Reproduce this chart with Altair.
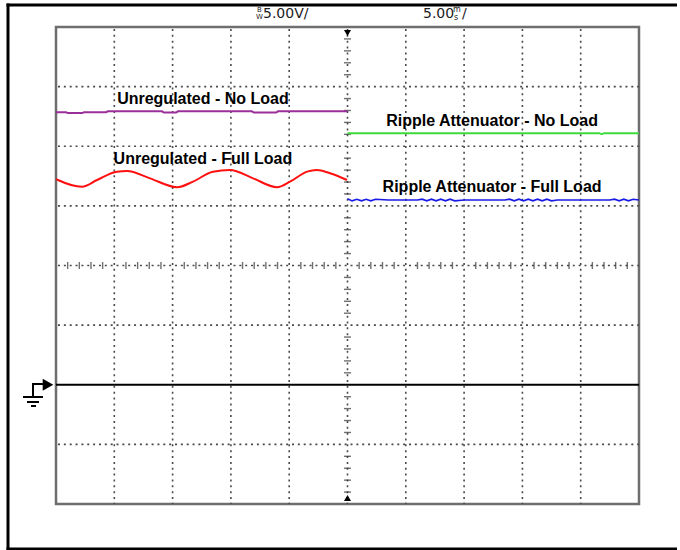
import altair as alt
import pandas as pd

# ---- scope settings: 5 ms/div (10 div), 5 V/div (8 div), ground 2 div above bottom
T_DOMAIN = [0, 50]
V_DOMAIN = [-10, 30]
grid_t = [5, 10, 15, 20, 25, 30, 35, 40, 45]
grid_v = [-5, 5, 10, 15, 20, 25]

# ---- traces (time ms, volts)
purple_t = [0.0, 0.86, 1.03, 2.23, 2.40, 4.29, 4.46, 9.09, 9.26, 10.29, 10.46, 16.80, 16.98, 18.87, 19.04, 25.0]
purple_v = [22.85, 22.85, 22.78, 22.78, 22.85, 22.85, 22.93, 22.93, 22.82, 22.82, 22.93, 22.93, 22.82, 22.82, 22.93, 22.93]

red_t = [0.0, 0.17, 2.23, 3.52, 5.23, 6.09, 8.06, 10.38, 11.75, 13.46, 14.92, 16.90, 18.95, 20.07, 21.53, 22.38, 23.50, 24.96]
red_v = [17.25, 17.17, 16.61, 17.17, 17.87, 17.92, 17.31, 16.56, 17.03, 17.87, 18.01, 17.31, 16.56, 17.03, 17.87, 18.01, 17.73, 17.17]

green_t = [25.0, 46.6, 46.8, 47.0, 50.0]
green_v = [21.09, 21.09, 21.0, 21.09, 21.09]

blue_t = [25.0, 25.4, 25.8, 26.2, 26.6, 27.0, 27.4, 28.5, 31.0, 31.4, 31.8, 32.2, 32.6, 33.0,
          33.4, 33.8, 34.2, 35.0, 38.5, 38.9, 39.3, 39.7, 40.1, 40.5, 40.9, 41.3, 41.7, 42.1,
          42.5, 43.0, 47.5, 47.9, 48.3, 48.7, 49.1, 49.5, 50.0]
blue_v = [15.60, 15.42, 15.55, 15.42, 15.55, 15.42, 15.55, 15.49, 15.49, 15.56, 15.42, 15.56, 15.42, 15.56,
          15.42, 15.56, 15.42, 15.49, 15.49, 15.56, 15.42, 15.56, 15.42, 15.56, 15.42, 15.56, 15.42, 15.56,
          15.42, 15.49, 15.49, 15.56, 15.42, 15.56, 15.42, 15.56, 15.49]

ground_t = [0, 50]
ground_v = [0, 0]

label_text = ["Unregulated - No Load", "Unregulated - Full Load",
              "Ripple Attenuator - No Load", "Ripple Attenuator - Full Load"]
label_t = [12.6, 12.6, 37.4, 37.4]
label_v = [23.95, 18.95, 22.12, 16.58]

# center-line minor ticks (5 per division)
minor_t = [i for i in range(1, 50) if i % 5 != 0]
minor_v = [i for i in range(-9, 30) if i % 5 != 0]

xs = alt.Scale(domain=T_DOMAIN, nice=False, zero=False)
ys = alt.Scale(domain=V_DOMAIN, nice=False, zero=False)

DOT = [2, 3.85]
GRID_COLOR = "#4a4a4a"


def trace(t, v, color, width=2.0, interp="linear"):
    df = pd.DataFrame({"t": t, "v": v})
    return alt.Chart(df).mark_line(color=color, strokeWidth=width, interpolate=interp).encode(
        x=alt.X("t:Q", scale=xs, axis=None),
        y=alt.Y("v:Q", scale=ys, axis=None),
    )


vgrid = alt.Chart(pd.DataFrame({"t": grid_t})).mark_rule(
    color=GRID_COLOR, strokeWidth=1.6, strokeDash=DOT).encode(
    x=alt.X("t:Q", scale=xs, axis=None), y=alt.value(2), y2=alt.value(477))
hgrid = alt.Chart(pd.DataFrame({"v": grid_v})).mark_rule(
    color=GRID_COLOR, strokeWidth=1.6, strokeDash=DOT).encode(
    y=alt.Y("v:Q", scale=ys, axis=None), x=alt.value(2), x2=alt.value(583))

ground = trace(ground_t, ground_v, "black", 2.2)

h_ticks = alt.Chart(pd.DataFrame({"t": minor_t})).mark_tick(
    orient="vertical", size=7, thickness=1.4, color="#333333").encode(
    x=alt.X("t:Q", scale=xs, axis=None),
    y=alt.Y(datum=10, scale=ys, axis=None),
)
v_ticks = alt.Chart(pd.DataFrame({"v": minor_v})).mark_tick(
    orient="horizontal", size=7, thickness=1.4, color="#333333").encode(
    y=alt.Y("v:Q", scale=ys, axis=None),
    x=alt.X(datum=25, scale=xs, axis=None),
)

labels = alt.Chart(pd.DataFrame({"t": label_t, "v": label_v, "s": label_text})).mark_text(
    font="Liberation Sans", fontWeight="bold", fontSize=16, color="black",
    align="center", baseline="middle").encode(
    x=alt.X("t:Q", scale=xs, axis=None),
    y=alt.Y("v:Q", scale=ys, axis=None),
    text="s:N",
)

# trigger position markers (top / bottom center) and ground marker
trig_top = alt.Chart(pd.DataFrame({"t": [25]})).mark_point(
    shape="triangle-down", filled=True, color="black", size=50, opacity=1).encode(
    x=alt.X("t:Q", scale=xs, axis=None), y=alt.value(6))
trig_bot = alt.Chart(pd.DataFrame({"t": [25]})).mark_point(
    shape="triangle-up", filled=True, color="black", size=50, opacity=1).encode(
    x=alt.X("t:Q", scale=xs, axis=None), y=alt.value(471))
gnd_arrow = alt.Chart(pd.DataFrame({"v": [0]})).mark_point(
    shape="triangle-right", filled=True, color="black", size=150, opacity=1).encode(
    y=alt.Y("v:Q", scale=ys, axis=None), x=alt.value(-8))


def bar(x, x2, y, y2, color="black"):
    # thin filled rectangle used for frame / symbol strokes (pixel positions)
    return alt.Chart(pd.DataFrame({"a": [0]})).mark_rect(color=color, strokeWidth=0).encode(
        x=alt.value(x), x2=alt.value(x2), y=alt.value(y), y2=alt.value(y2))


gnd_sym = [
    bar(-24, -13, 356, 358),
    bar(-24, -22, 356, 370),
    bar(-33, -13, 369, 371),
    bar(-29, -17, 374, 376),
    bar(-25, -20, 378, 380),
]

# outer frame of the screen capture (its right edge falls outside the capture)
frame = [
    bar(-49.5, -46.5, -23.5, 523.5),
    bar(-49.5, 621, -23.5, -20.5),
    bar(-49.5, 621, 520.5, 523.5),
]


def ptext(s, x, y, size=14, font="DejaVu Sans"):
    return alt.Chart(pd.DataFrame({"a": [0]})).mark_text(
        text=s, font=font, fontSize=size, color="#222222", align="left", baseline="middle").encode(
        x=alt.value(x), y=alt.value(y))


header = [
    ptext("B", 201, -17, size=7),
    ptext("W", 200, -10, size=7),
    ptext("5.00V/", 207, -13, size=14),
    ptext("5.00", 367, -13, size=14),
    ptext("m", 397, -17, size=8),
    ptext("s", 398, -9, size=8),
    ptext("/", 406, -13, size=14),
]

chart = alt.layer(
    vgrid, hgrid, h_ticks, v_ticks,
    ground,
    trace(purple_t, purple_v, "#9a2f9a", 2.0),
    trace(red_t, red_v, "#ff1010", 2.0, "monotone"),
    trace(green_t, green_v, "#3ddc3d", 1.8),
    trace(blue_t, blue_v, "#1a1ae6", 1.6),
    labels,
    trig_top, trig_bot, gnd_arrow,
    *gnd_sym, *frame, *header,
).properties(
    width=583, height=477,
    autosize=alt.AutoSizeParams(type="none"),
    padding={"left": 56, "top": 27, "right": 41, "bottom": 46},
    background="white",
).configure_view(stroke="#6e6e6e", strokeWidth=2.5)

chart.save("out.html", embed_options={"renderer": "svg", "actions": False})
